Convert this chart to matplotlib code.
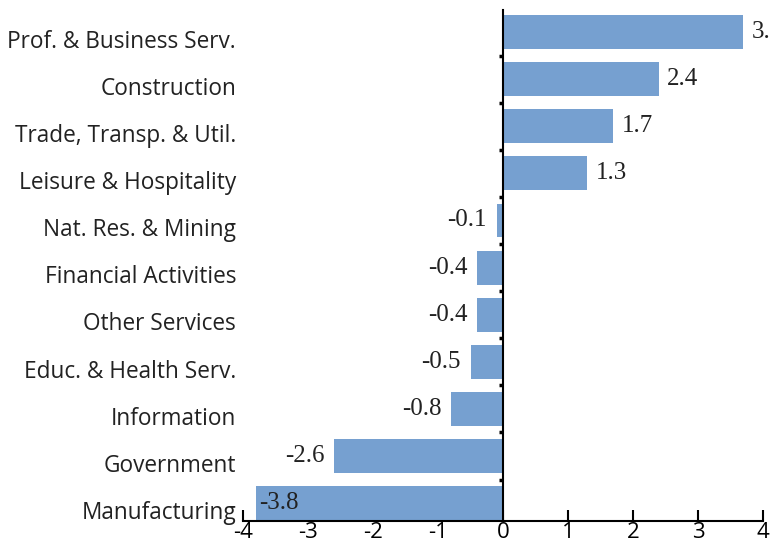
import matplotlib.pyplot as plt
import numpy as np

# sectors, top to bottom as in the chart
sectors = ["Prof. & Business Serv.", "Construction", "Trade, Transp. & Util.",
           "Leisure & Hospitality", "Nat. Res. & Mining", "Financial Activities",
           "Other Services", "Educ. & Health Serv.", "Information",
           "Government", "Manufacturing"]
values = [3.7, 2.4, 1.7, 1.3, -0.1, -0.4, -0.4, -0.5, -0.8, -2.6, -3.8]
xticks = [-4, -3, -2, -1, 0, 1, 2, 3, 4]

sans = ["Open Sans", "DejaVu Sans"]
serif = ["Liberation Serif", "DejaVu Serif"]

fig = plt.figure(figsize=(7.7, 5.54), dpi=100)
ax = fig.add_axes([0.3156, 0.0596, 0.6753, 0.9224])

n = len(sectors)
ypos = np.arange(n)[::-1]
ax.barh(ypos, values, height=0.72, color="#76A0D0", zorder=2)

ax.set_xlim(-4, 4)
ax.set_ylim(-0.38, n - 1 + 0.47)

# value labels
for y, v in zip(ypos, values):
    if v >= 0:
        ax.annotate(f"{v:.1f}", (v, y), xytext=(6, 0), textcoords="offset points",
                    ha="left", va="center", family=serif, fontsize=18, color="#222222",
                    annotation_clip=False)
    elif v < -3.5:
        ax.annotate(f"{v:.1f}", (v, y), xytext=(2, 0), textcoords="offset points",
                    ha="left", va="center", family=serif, fontsize=18, color="#222222")
    else:
        ax.annotate(f"{v:.1f}", (v, y), xytext=(-7, 0), textcoords="offset points",
                    ha="right", va="center", family=serif, fontsize=18, color="#222222")

# category labels at the left of the axes (sit a bit below bar centre)
trans = ax.get_yaxis_transform()
for y, s in zip(ypos, sectors):
    ax.annotate(s, (0, y), xycoords=trans, xytext=(-5, -7), textcoords="offset points",
                ha="right", va="center", family=sans, fontsize=16.3, color="#222222")

# zero line with small ticks between categories
ax.spines["left"].set_position(("data", 0))
ax.spines["left"].set_linewidth(1.5)
ax.spines["left"].set_zorder(3)
ax.set_yticks(np.arange(n - 1) + 0.5)
ax.set_yticklabels([])
ax.tick_params(axis="y", direction="out", length=3, width=2.5)
ax.spines["right"].set_visible(False)
ax.spines["top"].set_visible(False)
ax.spines["bottom"].set_linewidth(1.5)

ax.set_xticks(xticks)
ax.set_xticklabels([str(t) for t in xticks], family=sans, fontsize=16)
ax.tick_params(axis="x", direction="in", length=8, width=1.5, pad=1)

fig.savefig("out.png", dpi=100)
